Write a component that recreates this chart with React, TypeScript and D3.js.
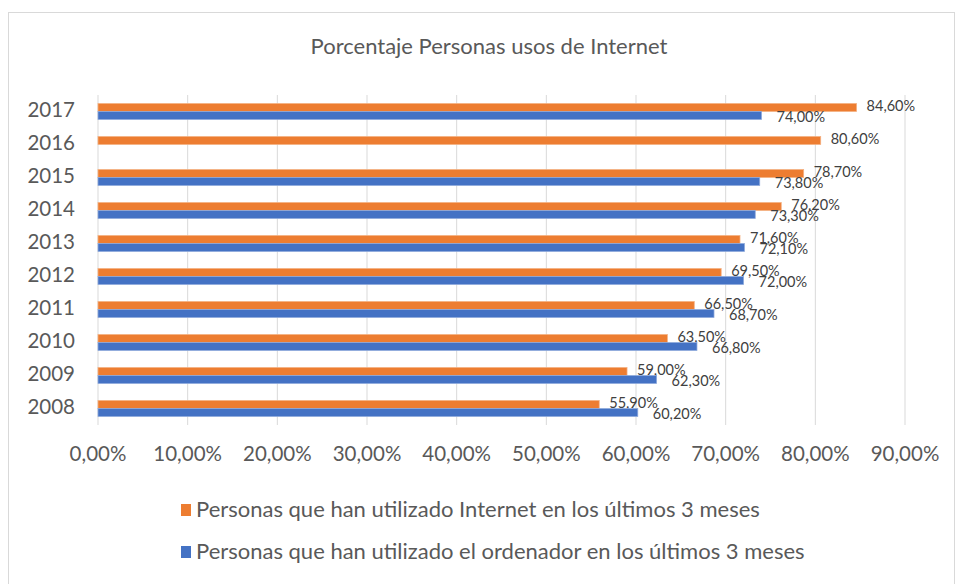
import React from "react";
import * as d3 from "d3";

const years = ["2008", "2009", "2010", "2011", "2012", "2013", "2014", "2015", "2016", "2017"];
const internet = [55.9, 59.0, 63.5, 66.5, 69.5, 71.6, 76.2, 78.7, 80.6, 84.6];
const ordenador: (number | null)[] = [60.2, 62.3, 66.8, 68.7, 72.0, 72.1, 73.3, 73.8, null, 74.0];
const xTicks = [0, 10, 20, 30, 40, 50, 60, 70, 80, 90];
const seriesNames = [
  "Personas que han utilizado Internet en los últimos 3 meses",
  "Personas que han utilizado el ordenador en los últimos 3 meses",
];
const title = "Porcentaje Personas usos de Internet";

const W = 957;
const H = 584;
const FONT = "Lato, 'Open Sans', sans-serif";
const ORANGE = "#ED7D31";
const BLUE = "#4472C4";

const fmt = (v: number) => d3.format(".2f")(v).replace(".", ",") + "%";

export default function App() {
  const x = d3.scaleLinear().domain([0, 90]).range([98, 905]);
  const y = d3
    .scaleBand<string>()
    .domain([...years].reverse())
    .range([95, 425])
    .paddingInner(0.515)
    .paddingOuter(0.2575);
  const inner = d3.scaleBand<string>().domain(["internet", "ordenador"]).range([0, y.bandwidth()]);

  const series = [
    { key: "internet", values: internet, color: ORANGE, stroke: "#F4B183", dx: 10, dy: 0 },
    { key: "ordenador", values: ordenador, color: BLUE, stroke: "#8FAADC", dx: 15, dy: 3 },
  ];

  return (
    <svg width={W} height={H} style={{ position: "absolute", left: 0, top: 0 }}>
      <rect x={0} y={0} width={W} height={H} fill="#fff" />
      <rect x={8.5} y={12.5} width={946} height={600} fill="#fff" stroke="#D9D9D9" strokeWidth={1} />
      <text x={489} y={48} textAnchor="middle" dominantBaseline="middle" fontFamily={FONT} fontSize={22} fill="#595959">
        {title}
      </text>
      {xTicks.map((t) => (
        <line key={"g" + t} x1={x(t)} x2={x(t)} y1={95} y2={425} stroke="#D9D9D9" strokeWidth={1} />
      ))}
      {xTicks.map((t) => (
        <text key={"t" + t} x={x(t)} y={456} textAnchor="middle" dominantBaseline="middle" fontFamily={FONT} fontSize={20.5} fill="#595959">
          {fmt(t)}
        </text>
      ))}
      {years.map((yr) => (
        <text key={"y" + yr} x={75} y={(y(yr) ?? 0) + y.bandwidth() / 2} textAnchor="end" dominantBaseline="middle" fontFamily={FONT} fontSize={20.5} fill="#595959">
          {yr}
        </text>
      ))}
      {series.map((s) =>
        years.map((yr, i) => {
          const v = s.values[i];
          if (v == null) return null;
          const by = (y(yr) ?? 0) + (inner(s.key) ?? 0);
          const bh = inner.bandwidth();
          return (
            <g key={s.key + yr}>
              <rect x={x(0)} y={by} width={x(v) - x(0)} height={bh} fill={s.color} stroke={s.stroke} strokeWidth={0.75} />
              <text x={x(v) + s.dx} y={by + bh / 2 + s.dy} dominantBaseline="middle" fontFamily={FONT} fontSize={14.5} fill="#404040">
                {fmt(v)}
              </text>
            </g>
          );
        })
      )}
      {seriesNames.map((name, i) => (
        <g key={name}>
          <rect x={181} y={504 + i * 42} width={10} height={12} fill={i === 0 ? ORANGE : BLUE} />
          <text x={196} y={511 + i * 42} dominantBaseline="middle" fontFamily={FONT} fontSize={22} fill="#595959">
            {name}
          </text>
        </g>
      ))}
    </svg>
  );
}
